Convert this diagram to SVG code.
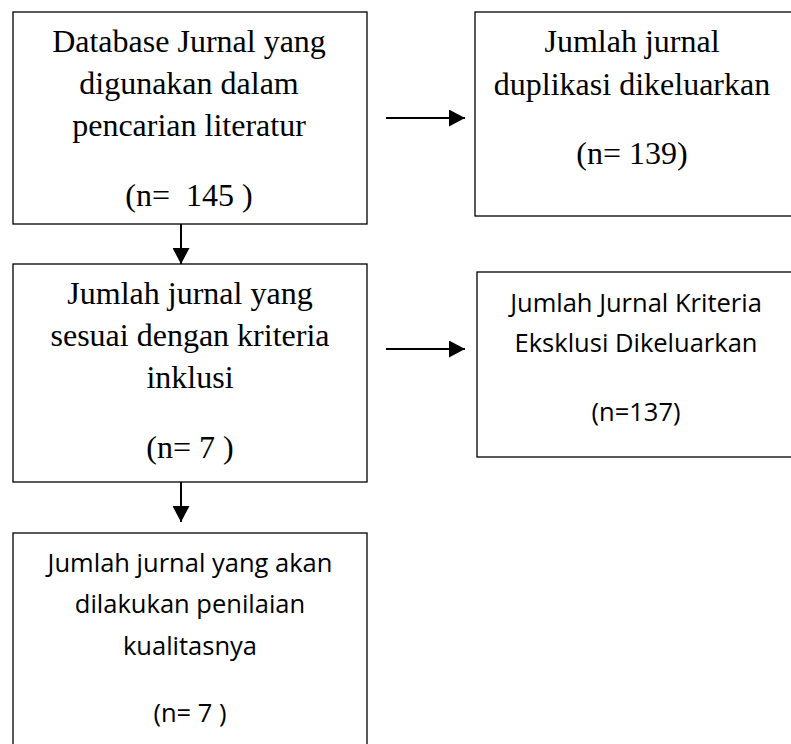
<svg xmlns="http://www.w3.org/2000/svg" width="791" height="744" viewBox="0 0 791 744">
<defs>
<marker id="ah" markerUnits="userSpaceOnUse" markerWidth="17" markerHeight="17" refX="16" refY="8.5" orient="auto">
<path d="M0,0 L16,8.5 L0,17 Z" fill="#000"/>
</marker>
<style>
.box{fill:#fff;stroke:#000;stroke-width:1.3}
.serif{font-family:"Liberation Serif","Times New Roman",serif;font-size:32px;fill:#000;text-anchor:middle;white-space:pre}
.sans{font-family:"Open Sans","Liberation Sans",sans-serif;font-size:25.5px;fill:#000;text-anchor:middle;white-space:pre}
.conn{stroke:#000;stroke-width:2;fill:none;marker-end:url(#ah)}
</style>
</defs>
<rect width="791" height="744" fill="#fff"/>
<g id="connectors">
<line class="conn" x1="386" y1="118" x2="465" y2="118"/>
<line class="conn" x1="386" y1="349" x2="465" y2="349"/>
<line class="conn" x1="181" y1="224" x2="181" y2="264"/>
<line class="conn" x1="181" y1="482" x2="181" y2="522"/>
</g>
<g id="n1">
<rect class="box" x="13" y="12" width="354" height="212"/>
<text class="serif" x="189" y="52">Database Jurnal yang</text>
<text class="serif" x="189" y="94">digunakan dalam</text>
<text class="serif" x="189" y="136">pencarian literatur</text>
<text class="serif" x="189" y="206" xml:space="preserve">(n=  145 )</text>
</g>
<g id="n2">
<rect class="box" x="475" y="12" width="320" height="204"/>
<text class="serif" x="632" y="52">Jumlah jurnal</text>
<text class="serif" x="632" y="95">duplikasi dikeluarkan</text>
<text class="serif" x="632" y="164">(n= 139)</text>
</g>
<g id="n3">
<rect class="box" x="13" y="264" width="354" height="218"/>
<text class="serif" x="190" y="304">Jumlah jurnal yang</text>
<text class="serif" x="190" y="346">sesuai dengan kriteria</text>
<text class="serif" x="190" y="388">inklusi</text>
<text class="serif" x="190" y="458">(n= 7 )</text>
</g>
<g id="n4">
<rect class="box" x="477" y="272" width="320" height="185"/>
<text class="sans" x="636" y="312">Jumlah Jurnal Kriteria</text>
<text class="sans" x="636" y="352">Eksklusi Dikeluarkan</text>
<text class="sans" x="636" y="421">(n=137)</text>
</g>
<g id="n5">
<rect class="box" x="13" y="533" width="354" height="220"/>
<text class="sans" x="190" y="572">Jumlah jurnal yang akan</text>
<text class="sans" x="190" y="613">dilakukan penilaian</text>
<text class="sans" x="190" y="655">kualitasnya</text>
<text class="sans" x="190" y="722">(n= 7 )</text>
</g>
</svg>
